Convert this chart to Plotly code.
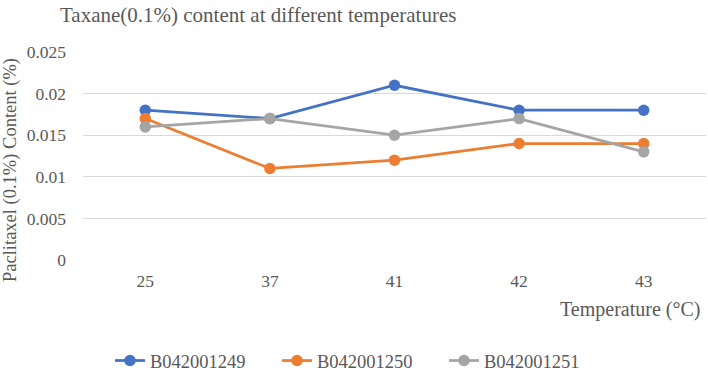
import plotly.graph_objects as go

categories = ["25", "37", "41", "42", "43"]
s1249 = [0.018, 0.017, 0.021, 0.018, 0.018]
s1250 = [0.017, 0.011, 0.012, 0.014, 0.014]
s1251 = [0.016, 0.017, 0.015, 0.017, 0.013]
series_names = ["B042001249", "B042001250", "B042001251"]
colors = ["#4472C4", "#ED7D31", "#A5A5A5"]
ytick_vals = [0, 0.005, 0.01, 0.015, 0.02, 0.025]
ytick_text = ["0", "0.005", "0.01", "0.015", "0.02", "0.025"]

font_fam = "Liberation Serif, Times New Roman, serif"
W, H = 708, 371
L, R, T, B = 83, 2, 52, 111
PW, PH = W - L - R, H - T - B

def px_x(x):
    return (x - L) / PW

def px_y(y):
    return (H - B - y) / PH

fig = go.Figure()
for name, vals, c in zip(series_names, [s1249, s1250, s1251], colors):
    fig.add_trace(go.Scatter(x=categories, y=vals, name=name, mode="lines+markers",
                             line=dict(color=c, width=2.75),
                             marker=dict(color=c, size=11.5)))

fig.update_layout(
    width=W, height=H,
    margin=dict(l=L, r=R, t=T, b=B, autoexpand=False),
    plot_bgcolor="white", paper_bgcolor="white",
    font=dict(family=font_fam, color="#595959", size=17.5),
    showlegend=True,
    legend=dict(orientation="h", x=px_x(110), xanchor="left", y=px_y(361), yanchor="middle",
                font=dict(size=18.5, color="#595959"), tracegroupgap=0,
                entrywidth=122, entrywidthmode="pixels"),
    annotations=[
        dict(text="Taxane(0.1%) content at different temperatures", xref="paper", yref="paper",
             x=px_x(258), y=px_y(15), xanchor="center", yanchor="middle", showarrow=False,
             font=dict(size=21, color="#595959", family=font_fam)),
        dict(text="Temperature (°C)", xref="paper", yref="paper", x=px_x(702), y=px_y(309),
             xanchor="right", yanchor="middle", showarrow=False,
             font=dict(size=20, color="#595959", family=font_fam)),
        dict(text="Paclitaxel (0.1%) Content (%)", xref="paper", yref="paper", x=px_x(10),
             y=px_y(170), xanchor="center", yanchor="middle", textangle=-90, showarrow=False,
             font=dict(size=18.5, color="#595959", family=font_fam)),
    ],
)

fig.update_xaxes(type="category", range=[-0.5, 4.5], showgrid=False, showline=False,
                 ticks="", tickfont=dict(size=17.5, color="#595959"), zeroline=False,
                 ticklabelstandoff=8, automargin=False)
fig.update_yaxes(range=[0, 0.025], tickvals=ytick_vals, ticktext=ytick_text,
                 showgrid=True, gridcolor="#D9D9D9", gridwidth=1, zeroline=False,
                 showline=False, ticks="", tickfont=dict(size=17.5, color="#595959"),
                 ticklabelstandoff=16, automargin=False)

fig.write_html("out.html", config={"displayModeBar": False},
               post_script="document.body.style.margin='0';")
